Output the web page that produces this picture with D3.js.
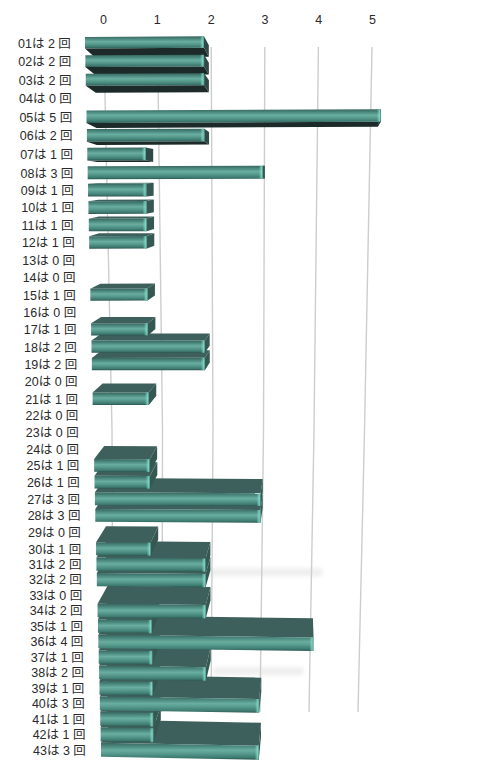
<!DOCTYPE html>
<html><head><meta charset="utf-8">
<script src="https://cdn.jsdelivr.net/npm/d3@7"></script>
<style>html,body{margin:0;padding:0;background:#fff}svg{display:block}</style>
</head><body><svg id="c" width="488" height="776"></svg>
<script>
const ids = d3.range(1,44).map(d=>String(d).padStart(2,"0"));
const counts = [2,2,2,0,5,2,1,3,1,1,1,1,0,0,1,0,1,2,2,0,1,0,0,0,1,1,3,3,0,1,2,2,0,2,1,4,1,2,1,3,1,1,3];
const ticks = [0,1,2,3,4,5];
// perspective of the original 3-D picture, read row by row
const rowKnots = [1,5,8,15,21,30,43];
const rowYKnots = [43,117,173,295,399,549,750];
const depthKnots = [1,5,8,15,21,25,30,43];
const depthVals = [9,5,0,-5,-9,-13,-16,-23];
const blobs = [{row:31.5,from:1.95,to:4.15},{row:37.9,from:2.1,to:3.8}];

const W=488,H=776;
const svg=d3.select("#c");
const rowY=d3.scaleLinear().domain(rowKnots).range(rowYKnots);
const depth=d3.scaleLinear().domain(depthKnots).range(depthVals);
const frontLeft=d3.scaleLinear().domain([1,43]).range([85,101]);
const frontUnit=d3.scaleLinear().domain([1,43]).range([59.5,52.6]);
const backUnit=d3.scaleLinear().domain([1,43]).range([56.9,50]);
const tilt=d3.scaleLinear().domain([1,20,43]).range([-0.3,0,1]);
const faceH=d3.scaleLinear().domain([1,8,15,43]).range([11.5,13,12,14]);
const labelX=d3.scaleLinear().domain([1,43]).range([18,33]);
const gridO=d3.scaleLinear().domain([47,430,712]).range([104,112,113]);
const gridU=d3.scaleLinear().domain([47,430,712]).range([53.6,50.5,49]);
const topX=d3.scaleLinear().domain([0,5]).range([103,372]);

const defs=svg.append("defs");
const g1=defs.append("linearGradient").attr("id","face").attr("x1",0).attr("x2",0).attr("y1",0).attr("y2",1);
[[0,"#38665f"],[.16,"#458076"],[.44,"#69aea0"],[.62,"#599c8f"],[.88,"#3d7a70"],[1,"#2b544e"]].forEach(s=>g1.append("stop").attr("offset",s[0]).attr("stop-color",s[1]));
const g2=defs.append("linearGradient").attr("id","cap").attr("x1",0).attr("x2",1).attr("y1",0).attr("y2",0);
[[0,"#7fdccb",0],[.7,"#84e0cf",.8],[1,"#4c8a80",.9]].forEach(s=>g2.append("stop").attr("offset",s[0]).attr("stop-color",s[1]).attr("stop-opacity",s[2]));
defs.append("filter").attr("id","blur").attr("filterUnits","userSpaceOnUse").attr("x",0).attr("y",0).attr("width",W).attr("height",H)
  .append("feGaussianBlur").attr("stdDeviation",2.2);
defs.append("filter").attr("id","soft").attr("filterUnits","userSpaceOnUse").attr("x",0).attr("y",0).attr("width",W).attr("height",H)
  .append("feGaussianBlur").attr("stdDeviation",0.45);

// soft reflections
svg.append("g").selectAll("line").data(blobs).join("line")
  .attr("x1",d=>gridO(rowY(d.row))+gridU(rowY(d.row))*d.from)
  .attr("x2",d=>gridO(rowY(d.row))+gridU(rowY(d.row))*d.to)
  .attr("y1",d=>rowY(d.row)).attr("y2",d=>rowY(d.row))
  .attr("stroke","#eeeeee").attr("stroke-width",8).attr("stroke-linecap","round").attr("filter","url(#blur)");

// gridlines
const gridLine=d3.line().x(d=>d.x).y(d=>d.y);
svg.append("g").selectAll("path").data(ticks).join("path")
  .attr("fill","none").attr("stroke","#cdcdcd").attr("stroke-width",1.4)
  .attr("d",v=>gridLine([47,430,712].map(y=>({x:gridO(y)+gridU(y)*v,y}))));

// axis
const axis=d3.axisTop(topX).tickValues(ticks).tickSize(0).tickPadding(0).tickFormat(d3.format("d"));
const ax=svg.append("g").attr("transform","translate(0,24)").call(axis);
ax.select(".domain").remove();
ax.selectAll("text").attr("font-family","'Liberation Sans',sans-serif").attr("font-size",12.5).attr("fill","#2a2a2a");

// bars: rows are painted from the horizon row outward so nearer faces overlap
const rows=ids.map((id,i)=>({id,row:i+1,v:counts[i]}));
const order=[...rows.filter(d=>d.row<=8),...rows.filter(d=>d.row>8).reverse()];
const poly=p=>"M"+p.map(q=>q.join(",")).join("L")+"Z";
const bars=svg.append("g").attr("filter","url(#soft)").selectAll("g").data(order.filter(d=>d.v>0)).join("g");
bars.each(function(d){
  const g=d3.select(this),r=d.row,h=faceH(r),cy=rowY(r)-0.3,dz=depth(r);
  const xL=frontLeft(r),xR=xL+frontUnit(r)*d.v,bL=xL+10,bR=bL+backUnit(r)*d.v;
  const t=tilt(r)*d.v;
  const FT=[[xL,cy-h/2],[xR,cy-h/2+t]],FB=[[xL,cy+h/2],[xR,cy+h/2+t]];
  const BT=[[bL,cy-h/2+dz],[bR,cy-h/2+t+dz]],BB=[[bL,cy+h/2+dz],[bR,cy+h/2+t+dz]];
  if(dz<0) g.append("path").attr("d",poly([FT[0],FT[1],BT[1],BT[0]])).attr("fill","#3e615b");
  if(dz>0) g.append("path").attr("d",poly([FB[0],FB[1],BB[1],BB[0]])).attr("fill","#1b2a29");
  g.append("path").attr("d",poly([FT[1],BT[1],BB[1],FB[1]])).attr("fill",dz>0?"#2f4a46":"#365852");
  g.append("path").attr("d",poly([FT[0],FT[1],FB[1],FB[0]])).attr("fill","url(#face)");
  const c=4;
  g.append("path").attr("d",poly([[xR-c,FT[1][1]],FT[1],FB[1],[xR-c,FB[1][1]]])).attr("fill","url(#cap)");
});

// row labels
svg.append("g").selectAll("text").data(rows).join("text")
  .attr("x",d=>labelX(d.row)).attr("y",d=>rowY(d.row)).attr("dy","0.36em")
  .attr("font-family","'Liberation Sans','Noto Sans CJK JP',sans-serif").attr("font-size",12.5).attr("fill","#2a2a2a")
  .style("white-space","pre")
  .text(d=>`${d.id}は ${d.v} 回`);
</script></body></html>
